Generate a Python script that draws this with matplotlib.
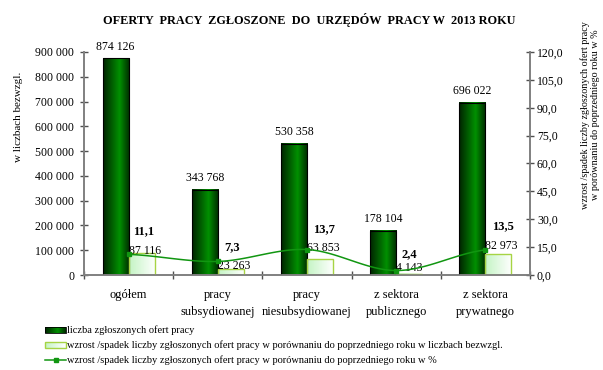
import numpy as np
import matplotlib.pyplot as plt
from matplotlib.colors import LinearSegmentedColormap
from matplotlib.ticker import FuncFormatter, MultipleLocator

plt.rcParams['font.family'] = ['Liberation Serif', 'DejaVu Serif']

# Job offers reported to labour offices in 2013
categories = ['ogółem', 'pracy\nsubsydiowanej', 'pracy\nniesubsydiowanej',
              'z sektora\npublicznego', 'z sektora\nprywatnego']
offers = [874126, 343768, 530358, 178104, 696022]
change_abs = [87116, 23263, 63853, 4143, 82973]
change_pct = [11.1, 7.3, 13.7, 2.4, 13.5]
pct_labels = ['11,1', '7,3', '13,7', '2,4', '13,5']

W, H = 603, 370
fig = plt.figure(figsize=(W / 100, H / 100), dpi=100)
ax = fig.add_axes([84 / W, 1 - 275 / H, (530 - 84) / W, (275 - 52) / H])
ax2 = ax.twinx()

dark_cmap = LinearSegmentedColormap.from_list(
    'dark', [(0, '#002400'), (0.62, '#009000'), (1, '#002a00')])
light_cmap = LinearSegmentedColormap.from_list(
    'light', [(0, '#c4f4c4'), (1, '#ffffff')])
grad = np.linspace(0, 1, 64).reshape(1, -1)

bw = 0.292
centers = np.arange(len(categories)) + 0.5


def gradient_bar(axis, x0, x1, h, cmap, edge, lw):
    axis.imshow(grad, cmap=cmap, extent=(x0, x1, 0, h), aspect='auto',
                origin='lower', zorder=2)
    axis.add_patch(plt.Rectangle((x0, 0), x1 - x0, h, fill=False,
                                 edgecolor=edge, linewidth=lw, zorder=3))


for c, v, d in zip(centers, offers, change_abs):
    gradient_bar(ax, c - bw, c, v, dark_cmap, 'black', 0.8)
    gradient_bar(ax, c, c + bw, d, light_cmap, '#a6d444', 1.0)
    ax.annotate(f'{v:,}'.replace(',', ' '), (c - bw / 2, v), xytext=(0, 4),
                textcoords='offset points', ha='center', va='bottom', fontsize=8.5)

abs_dy = [2, 2, 8, 4, 6]
for c, d, dy in zip(centers, change_abs, abs_dy):
    ax.annotate(f'{d:,}'.replace(',', ' '), (c, d), xytext=(0, dy),
                textcoords='offset points', ha='left', va='center', fontsize=8.5)

ax.set_xlim(0, len(categories))
ax.set_ylim(0, 900000)
ax.yaxis.set_major_locator(MultipleLocator(100000))
ax.yaxis.set_major_formatter(FuncFormatter(lambda v, p: f'{int(v):,}'.replace(',', ' ')))
ax.set_xticks(np.arange(len(categories) + 1))
ax.set_xticklabels([])
for c, name in zip(centers, categories):
    ax.text(c, -14 / 223, name, transform=ax.get_xaxis_transform(), ha='center',
            va='top', fontsize=9, linespacing=1.55)

# smoothed percentage line (Catmull-Rom through the data points)
px = np.concatenate([[2 * centers[0] - centers[1]], centers, [2 * centers[-1] - centers[-2]]])
py = np.concatenate([[change_pct[0]], change_pct, [change_pct[-1]]])
t = np.linspace(0, 1, 30)
sx, sy = [], []
for i in range(1, len(px) - 2):
    for arr, out in ((px, sx), (py, sy)):
        p0, p1, p2, p3 = arr[i - 1:i + 3]
        out.extend(0.5 * (2 * p1 + (-p0 + p2) * t + (2 * p0 - 5 * p1 + 4 * p2 - p3) * t ** 2
                          + (-p0 + 3 * p1 - 3 * p2 + p3) * t ** 3))
ax2.plot(sx, sy, color='#119611', linewidth=1.1, zorder=4)
ax2.plot(centers, change_pct, 's', color='#119611', markersize=3, zorder=5)

pct_dx = [3, 5, 4, 4, 5]
pct_dy = [17, 10, 15, 12, 17]
for c, v, lab, dx, dy in zip(centers, change_pct, pct_labels, pct_dx, pct_dy):
    ax2.annotate(lab, (c, v), xytext=(dx, dy), textcoords='offset points',
                 ha='left', va='center', fontsize=9, fontweight='bold')

ax2.set_ylim(0, 120)
ax2.yaxis.set_major_locator(MultipleLocator(15))
ax2.yaxis.set_major_formatter(FuncFormatter(lambda v, p: f'{v:.1f}'.replace('.', ',')))

for a in (ax, ax2):
    for s in a.spines.values():
        s.set_color('#808080')
        s.set_linewidth(1.2)
    a.spines['top'].set_visible(False)
    a.tick_params(direction='inout', length=6, width=1.0, color='#505050',
                  labelsize=8.5, pad=2)
ax.tick_params(axis='y', pad=4)

fig.text(309 / W, 1 - 20 / H,
         'OFERTY  PRACY  ZGŁOSZONE  DO  URZĘDÓW  PRACY W  2013 ROKU',
         ha='center', va='center', fontsize=8.8, fontweight='bold')
fig.text(19 / W, 1 - 117 / H, 'w liczbach bezwzgl.', rotation=90,
         ha='center', va='center', fontsize=8)
fig.text(590 / W, 1 - 115 / H,
         'wzrost /spadek liczby zgłoszonych ofert pracy\nw porównaniu do poprzedniego roku w %',
         rotation=90, ha='center', va='center', fontsize=7.3, linespacing=1.05)

# legend drawn in pixel coordinates
lg = fig.add_axes([0, 0, 1, 1], zorder=-1)
lg.set_xlim(0, W)
lg.set_ylim(H, 0)
lg.axis('off')
lg.imshow(grad, cmap=dark_cmap, extent=(45, 66, 333, 327), aspect='auto')
lg.add_patch(plt.Rectangle((45, 327), 21, 6, fill=False, edgecolor='black', linewidth=0.6))
lg.imshow(grad, cmap=light_cmap, extent=(45, 66, 348, 342), aspect='auto')
lg.add_patch(plt.Rectangle((45, 342), 21, 6, fill=False, edgecolor='#a6d444', linewidth=1.0))
lg.plot([45, 66], [360, 360], color='#119611', linewidth=1.1)
lg.plot([55.5], [360], 's', color='#119611', markersize=3)
legend_texts = ['liczba zgłoszonych ofert pracy',
                'wzrost /spadek liczby zgłoszonych ofert pracy w porównaniu do poprzedniego roku w liczbach bezwzgl.',
                'wzrost /spadek liczby zgłoszonych ofert pracy w porównaniu do poprzedniego roku w %']
for yy, txt in zip([330, 345, 360], legend_texts):
    lg.text(67, yy, txt, ha='left', va='center', fontsize=7.5)
lg.set_xlim(0, W)
lg.set_ylim(H, 0)

fig.savefig('out.png', dpi=100)
